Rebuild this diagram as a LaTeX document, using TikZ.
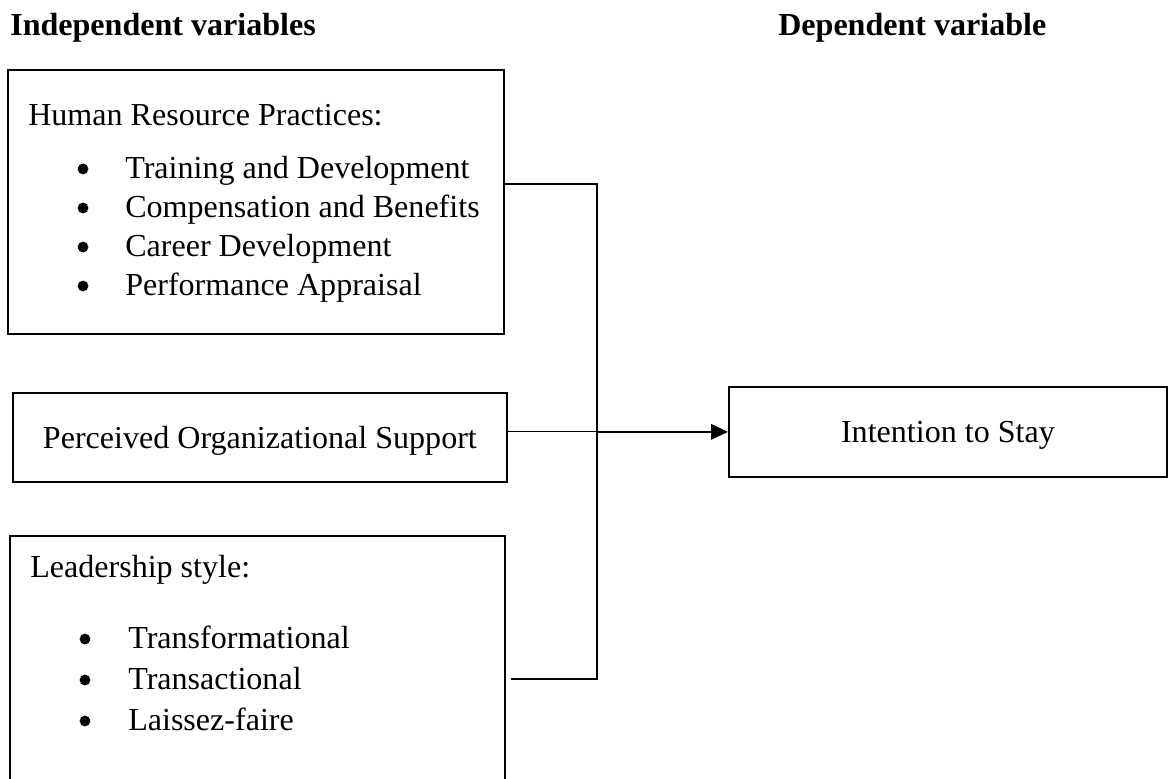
\documentclass[tikz,border=0pt]{standalone}
\usepackage{fontspec}
\setmainfont{Liberation Serif}
\usepackage{tikz}
\usetikzlibrary{arrows.meta}

\begin{document}
\begin{tikzpicture}[x=0.025cm, y=-0.025cm,
  font=\fontsize{22.8}{27}\selectfont,
  box/.style={draw, line width=1.2pt, inner sep=0pt, anchor=north west,
    text height=15.5pt, text depth=0pt},
  head/.style={font=\fontsize{22.8}{27}\selectfont\bfseries, anchor=base west, inner sep=0pt},
  txt/.style={anchor=base west, inner sep=0pt},
  dot/.style={circle, fill, inner sep=0pt, minimum size=0.27cm},
  link/.style={line width=0.9pt}
]
  \useasboundingbox (0,0) rectangle (1168,778);

  % Headings
  \node[head] (indep) at (10,35) {Independent variables};
  \node[head] (dep) at (778,35) {Dependent variable};

  % Human resource practices
  \node[box, minimum width=12.4cm, minimum height=6.6cm] (hrp) at (7,69) {};
  \node[txt] (hrph) at (28,125) {Human Resource Practices:};
  \foreach \t [count=\i] in {Training and Development, Compensation and Benefits,
      Career Development, Performance Appraisal} {
    \node[dot] (hrpd\i) at (83,{130+39*\i}) {};
    \node[txt] (hrp\i) at (125,{139+39*\i}) {\t};
  }

  % Perceived organizational support
  \node[box, minimum width=12.35cm, minimum height=2.225cm] (pos) at (12,392)
    {Perceived Organizational Support};

  % Leadership style
  \node[box, minimum width=12.375cm, minimum height=6.625cm] (lead) at (9,535) {};
  \node[txt] (leadh) at (30,577) {Leadership style:};
  \foreach \t [count=\i] in {Transformational, Transactional, Laissez-faire} {
    \node[dot] (leadd\i) at (85,{598+41*\i}) {};
    \node[txt] (lead\i) at (128,{607+41*\i}) {\t};
  }

  % Dependent variable
  \node[box, minimum width=10.95cm, minimum height=2.25cm] (stay) at (728,386)
    {Intention to Stay};

  % Connectors
  \coordinate (top) at (597,184);
  \coordinate (bot) at (597,679);
  \coordinate (mid) at (top |- stay.west);
  \draw[link] (hrp.east |- top) -- (top) -- (bot) -- ([xshift=3.5pt]lead.east |- bot);
  \draw[link] (pos.east |- stay.west) -- (mid);
  \draw[link, line width=1.3pt, -{Triangle[length=12pt, width=11pt]}] (mid) -- (stay.west);
\end{tikzpicture}
\end{document}
